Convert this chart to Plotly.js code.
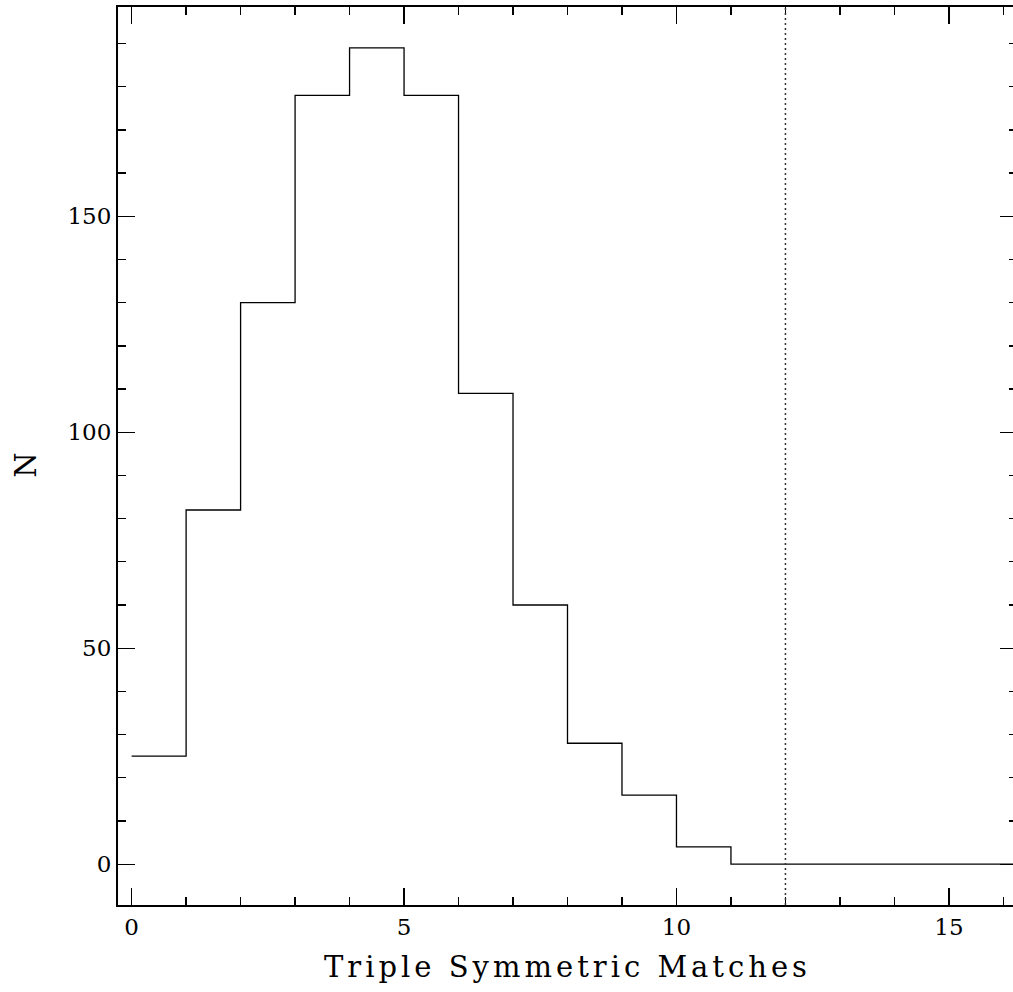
<!DOCTYPE html>
<html>
<head>
<meta charset="utf-8">
<script src="https://cdn.plot.ly/plotly-3.0.1.min.js"></script>
<style>
html, body { margin: 0; padding: 0; overflow: hidden; background: #fff; }
#chart { width: 1018px; height: 992px; }
.xtitle { letter-spacing: 4px; }
</style>
</head>
<body>
<div id="chart"></div>
<script>
// Histogram bin left edges and counts
const binEdges = [0, 1, 2, 3, 4, 5, 6, 7, 8, 9, 10, 11, 12, 13, 14, 15, 16, 17];
const counts   = [25, 82, 130, 178, 189, 178, 109, 60, 28, 16, 4, 0, 0, 0, 0, 0, 0];
const xTickVals = [0, 5, 10, 15];
const yTickVals = [0, 50, 100, 150];
const markerX = 12;
const xTitle = 'Triple Symmetric Matches';
const yTitle = 'N';

// step trace: repeat last value at the final edge
const stepX = binEdges.slice();
const stepY = counts.concat([counts[counts.length - 1]]);

const tickFont = { family: 'DejaVu Serif', size: 23, color: '#000' };

const axisCommon = {
  showgrid: false,
  zeroline: false,
  showline: true,
  linecolor: '#000',
  linewidth: 2,
  mirror: 'ticks',
  ticks: 'inside',
  ticklen: 17,
  tickwidth: 1.3,
  tickcolor: '#000',
  tickfont: tickFont
};

const trace = {
  x: stepX,
  y: stepY,
  type: 'scatter',
  mode: 'lines',
  line: { shape: 'hv', color: '#000', width: 1.3 },
  hoverinfo: 'skip',
  showlegend: false
};

const layout = {
  width: 1018,
  height: 992,
  margin: { l: 118, r: 1, t: 7, b: 87 },
  paper_bgcolor: '#fff',
  plot_bgcolor: '#fff',
  showlegend: false,
  xaxis: Object.assign({}, axisCommon, {
    range: [-0.25, 16.25],
    tickmode: 'array',
    tickvals: xTickVals,
    ticktext: xTickVals.map(String),
    minor: { dtick: 1, tick0: 0, ticklen: 8, tickwidth: 1.3, tickcolor: '#000', ticks: 'inside', showgrid: false },
    title: { text: xTitle, font: { family: 'DejaVu Serif', size: 29, color: '#000' }, standoff: 18 }
  }),
  yaxis: Object.assign({}, axisCommon, {
    range: [-9.45, 198.45],
    tickmode: 'array',
    tickvals: yTickVals,
    ticktext: yTickVals.map(String),
    minor: { dtick: 10, tick0: 0, ticklen: 8, tickwidth: 1.3, tickcolor: '#000', ticks: 'inside', showgrid: false }
  }),
  shapes: [{
    type: 'line', xref: 'x', yref: 'paper',
    x0: markerX, x1: markerX, y0: 0, y1: 1,
    line: { color: '#333', width: 1.5, dash: '2px,3px' }
  }],
  annotations: [{
    text: yTitle, xref: 'paper', yref: 'paper',
    x: -0.1025, y: 0.49, xanchor: 'center', yanchor: 'middle',
    textangle: -90, showarrow: false,
    font: { family: 'DejaVu Serif', size: 29, color: '#000' }
  }]
};

Plotly.newPlot('chart', [trace], layout, { staticPlot: true, displayModeBar: false });
</script>
</body>
</html>
